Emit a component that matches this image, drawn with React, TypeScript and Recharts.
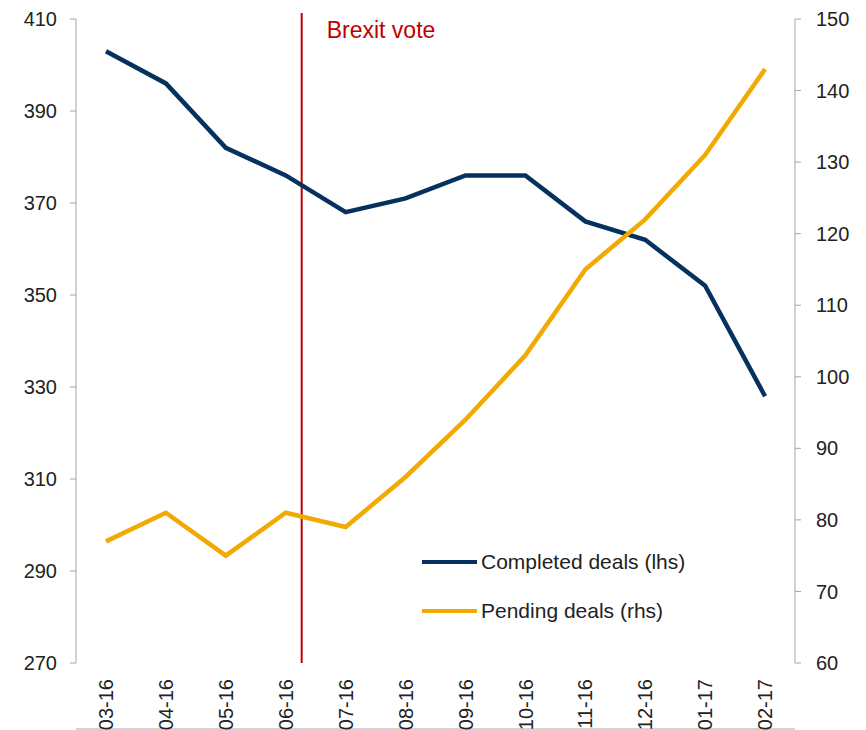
import React from "react";
import {
  LineChart,
  Line,
  XAxis,
  YAxis,
  ReferenceLine,
} from "recharts";

const months = [
  "03-16", "04-16", "05-16", "06-16", "07-16", "08-16",
  "09-16", "10-16", "11-16", "12-16", "01-17", "02-17",
];
const completedDeals = [403, 396, 382, 376, 368, 371, 376, 376, 366, 362, 352, 328];
const pendingDeals = [77, 81, 75, 81, 79, 86, 94, 103, 115, 122, 131, 143];

const leftTicks = [270, 290, 310, 330, 350, 370, 390, 410];
const rightTicks = [60, 70, 80, 90, 100, 110, 120, 130, 140, 150];
// month boundaries, Excel style tick marks between categories
const boundaryTicks = [0, 1, 2, 3, 4, 5, 6, 7, 8, 9, 10, 11, 12];
// 23 June 2016, as a fraction of the month axis
const brexitVoteMonth = 3 + 23 / 30;

const NAVY = "#05315f";
const GOLD = "#f2a900";
const RED = "#c00000";
const AXIS = "#a6a6a6";
const FONT = "'Liberation Sans', Arial, sans-serif";

const data = months.map((month, i) => ({
  month,
  monthIndex: i + 0.5,
  completed: completedDeals[i],
  pending: pendingDeals[i],
}));

const MonthTick = (props: any) => {
  const { x, y, payload } = props;
  return (
    <g transform={`translate(${x},${y})`}>
      <text
        transform="rotate(-90)"
        x={-8}
        y={0}
        dy="0.36em"
        textAnchor="end"
        fill="#222"
        fontSize={20}
        fontFamily={FONT}
      >
        {payload.value}
      </text>
    </g>
  );
};

const BrexitLabel = (props: any) => {
  const { viewBox } = props;
  return (
    <text
      x={viewBox.x + 25}
      y={38}
      fill={RED}
      fontSize={23}
      fontFamily={FONT}
    >
      Brexit vote
    </text>
  );
};

const legendItems = [
  { label: "Completed deals (lhs)", color: NAVY },
  { label: "Pending deals (rhs)", color: GOLD },
];

const ChartLegend = () => (
  <div
    style={{
      position: "absolute",
      left: 422,
      top: 537,
      fontFamily: FONT,
      fontSize: 21,
      color: "#222",
    }}
  >
    {legendItems.map((item) => (
      <div
        key={item.label}
        style={{ display: "flex", alignItems: "center", height: 49 }}
      >
        <span
          style={{
            display: "inline-block",
            width: 55,
            height: 4,
            background: item.color,
            marginRight: 4,
          }}
        />
        <span>{item.label}</span>
      </div>
    ))}
  </div>
);

export default function App() {
  return (
    <div style={{ position: "absolute", left: 0, top: 0, background: "#fff" }}>
      <LineChart
        width={866}
        height={730}
        data={data}
        margin={{ top: 19, right: 0, bottom: 0, left: 0 }}
      >
        <XAxis
          xAxisId="grid"
          dataKey="monthIndex"
          type="number"
          domain={[0, 12]}
          allowDataOverflow={true}
          ticks={boundaryTicks}
          interval={0}
          tick={false}
          height={1}
          tickSize={6}
          stroke={AXIS}
        />
        <XAxis
          xAxisId="cat"
          dataKey="month"
          scale="band"
          axisLine={false}
          tickLine={false}
          height={66}
          interval={0}
          tick={<MonthTick />}
        />
        <YAxis
          yAxisId="left"
          orientation="left"
          domain={[270, 410]}
          ticks={leftTicks}
          width={76}
          tickSize={6}
          tickMargin={13}
          stroke={AXIS}
          tick={{ fill: "#222", fontSize: 20, fontFamily: FONT }}
        />
        <YAxis
          yAxisId="right"
          orientation="right"
          domain={[60, 150]}
          ticks={rightTicks}
          width={71}
          tickSize={6}
          tickMargin={15}
          stroke={AXIS}
          tick={{ fill: "#222", fontSize: 20, fontFamily: FONT }}
        />
        <ReferenceLine
          xAxisId="grid"
          yAxisId="left"
          ifOverflow="visible"
          segment={[
            { x: brexitVoteMonth, y: 270 },
            { x: brexitVoteMonth, y: 411.3 },
          ]}
          stroke={RED}
          strokeWidth={2}
          label={<BrexitLabel />}
        />
        <Line
          xAxisId="cat"
          yAxisId="left"
          type="linear"
          dataKey="completed"
          name="Completed deals (lhs)"
          stroke={NAVY}
          strokeWidth={4.5}
          dot={false}
          isAnimationActive={false}
        />
        <Line
          xAxisId="cat"
          yAxisId="right"
          type="linear"
          dataKey="pending"
          name="Pending deals (rhs)"
          stroke={GOLD}
          strokeWidth={4.5}
          dot={false}
          isAnimationActive={false}
        />
      </LineChart>
      <ChartLegend />
    </div>
  );
}
